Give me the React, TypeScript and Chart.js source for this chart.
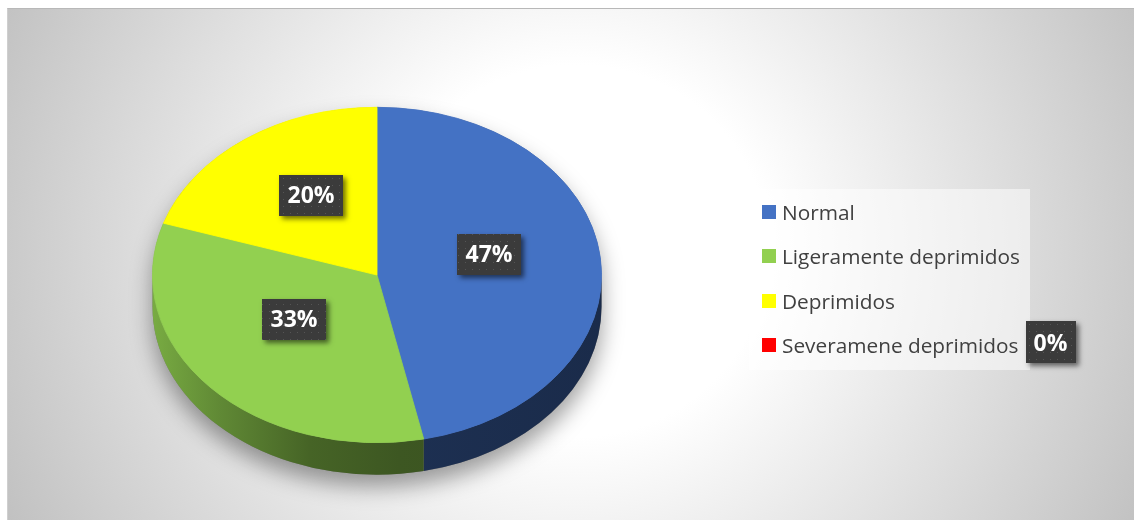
import React, { useEffect, useRef } from 'react';
import { Chart, registerables } from 'chart.js';

Chart.register(...registerables);

const categories = ['Normal', 'Ligeramente deprimidos', 'Deprimidos', 'Severamene deprimidos'];
const counts = [14, 10, 6, 0];
const sliceColors = ['#4472C4', '#92D050', '#FFFF00', '#FF0000'];

const TILT = 0.747;
const DEPTH = 32;
const LABEL_SHIFT = -12;
const LABEL_FONT = 'bold 23px "Open Sans"';

const total = counts.reduce((a, b) => a + b, 0);
const pct = (v: number) => Math.round((v / total) * 100) + '%';

function shade(hex: string, f: number) {
  const n = parseInt(hex.slice(1), 16);
  const r = Math.round(((n >> 16) & 255) * f);
  const g = Math.round(((n >> 8) & 255) * f);
  const b = Math.round((n & 255) * f);
  return `rgb(${r},${g},${b})`;
}

let patternCanvas: HTMLCanvasElement | null = null;
function getPattern(ctx: CanvasRenderingContext2D) {
  if (!patternCanvas) {
    patternCanvas = document.createElement('canvas');
    patternCanvas.width = 7;
    patternCanvas.height = 7;
    const p = patternCanvas.getContext('2d')!;
    p.fillStyle = '#3b3b3b';
    p.fillRect(0, 0, 7, 7);
    p.fillStyle = '#555555';
    p.fillRect(3, 3, 1, 1);
  }
  return ctx.createPattern(patternCanvas, 'repeat');
}

function drawLabel(ctx: CanvasRenderingContext2D, x: number, y: number, text: string) {
  ctx.save();
  ctx.font = LABEL_FONT;
  const tw = ctx.measureText(text).width;
  const w = Math.round(tw + 17);
  const h = 41;
  const left = Math.round(x - w / 2);
  const top = Math.round(y - h / 2);
  ctx.shadowColor = 'rgba(0,0,0,0.55)';
  ctx.shadowBlur = 5;
  ctx.shadowOffsetX = 3;
  ctx.shadowOffsetY = 3;
  ctx.fillStyle = '#3b3b3b';
  ctx.fillRect(left, top, w, h);
  ctx.shadowColor = 'transparent';
  const pat = getPattern(ctx);
  if (pat) {
    ctx.fillStyle = pat;
    ctx.fillRect(left, top, w, h);
  }
  ctx.fillStyle = '#ffffff';
  ctx.textAlign = 'center';
  ctx.textBaseline = 'middle';
  ctx.fillText(text, left + w / 2, top + h / 2 + 1);
  ctx.restore();
}

const pie3d = {
  id: 'pie3d',
  beforeDatasetsDraw(chart: any) {
    const ctx: CanvasRenderingContext2D = chart.ctx;
    const arcs = chart.getDatasetMeta(0).data as any[];
    if (!arcs.length) return;
    const cx = arcs[0].x;
    const cy = arcs[0].y;
    const r = arcs[0].outerRadius;
    const ry = r * TILT;

    // soft shadow under the pie
    ctx.save();
    ctx.shadowColor = 'rgba(0,0,0,0.38)';
    ctx.shadowBlur = 22;
    ctx.shadowOffsetY = 12;
    ctx.fillStyle = '#777';
    ctx.beginPath();
    ctx.ellipse(cx, cy, r, ry, 0, Math.PI, 0, false);
    ctx.ellipse(cx, cy + DEPTH, r, ry, 0, 0, Math.PI, false);
    ctx.closePath();
    ctx.fill();
    ctx.restore();

    // side walls
    arcs.forEach((arc, i) => {
      const s = arc.startAngle;
      const e = arc.endAngle;
      if (e - s <= 0) return;
      const base = sliceColors[i];
      const g = ctx.createLinearGradient(cx - r, 0, cx + r, 0);
      const stops: [number, number][] = [[0, 0.82], [0.15, 0.66], [0.35, 0.48], [0.55, 0.42], [1, 0.38]];
      stops.forEach(([o, f]) => g.addColorStop(o, shade(base, f)));
      for (let n = -1; n <= 1; n++) {
        const lo = Math.max(s, 2 * Math.PI * n);
        const hi = Math.min(e, Math.PI + 2 * Math.PI * n);
        if (hi <= lo) continue;
        ctx.beginPath();
        ctx.ellipse(cx, cy, r, ry, 0, lo, hi, false);
        ctx.ellipse(cx, cy + DEPTH, r, ry, 0, hi, lo, true);
        ctx.closePath();
        ctx.fillStyle = g;
        ctx.fill();
      }
    });

    ctx.save();
    ctx.translate(cx, cy);
    ctx.scale(1, TILT);
    ctx.translate(-cx, -cy);
  },
  afterDatasetsDraw(chart: any) {
    const ctx: CanvasRenderingContext2D = chart.ctx;
    ctx.restore();
    const arcs = chart.getDatasetMeta(0).data as any[];
    if (!arcs.length) return;
    const cy = arcs[0].y;
    arcs.forEach((arc, i) => {
      if (counts[i] <= 0) return;
      const p = arc.tooltipPosition(true);
      drawLabel(ctx, p.x, cy + (p.y - cy) * TILT + LABEL_SHIFT, pct(counts[i]));
    });
  },
};

export default function App() {
  const ref = useRef<HTMLCanvasElement>(null);
  useEffect(() => {
    const chart = new Chart(ref.current!, {
      type: 'pie',
      data: {
        labels: categories,
        datasets: [
          {
            data: counts,
            backgroundColor: sliceColors,
            borderColor: sliceColors,
            borderWidth: counts.map((v) => (v > 0 ? 1 : 0)),
          },
        ],
      },
      options: {
        responsive: false,
        animation: false,
        events: [],
        layout: { padding: { left: 152, right: 532, top: 50, bottom: 20 } },
        plugins: { legend: { display: false }, tooltip: { enabled: false } },
      },
      plugins: [pie3d as any],
    });
    return () => chart.destroy();
  }, []);

  const rowH = 44.3;
  return (
    <div style={{ position: 'absolute', left: 0, top: 0, width: 1134, height: 520, background: '#ffffff', overflow: 'hidden' }}>
      <div
        style={{
          position: 'absolute',
          left: 7,
          top: 8,
          width: 1127,
          height: 512,
          boxSizing: 'border-box',
          borderTop: '1px solid #b8b8b8',
          borderLeft: '1px solid #cfcfcf',
          background: 'radial-gradient(ellipse 640px 620px at 568px 242px, #ffffff 0%, #ffffff 30%, #c0c0c0 100%)',
        }}
      />
      <canvas ref={ref} width={1134} height={520} style={{ position: 'absolute', left: 0, top: 0 }} />
      <div
        style={{
          position: 'absolute',
          left: 749,
          top: 189,
          width: 281,
          height: 181,
          background: 'rgba(255,255,255,0.5)',
        }}
      />
      {categories.map((c, i) => (
        <div
          key={c}
          style={{
            position: 'absolute',
            left: 762,
            top: 190 + i * rowH,
            height: 44,
            display: 'flex',
            alignItems: 'center',
            fontFamily: '"Open Sans", sans-serif',
            fontSize: 20.8,
            color: '#404040',
            whiteSpace: 'nowrap',
          }}
        >
          <span style={{ display: 'inline-block', width: 14, height: 14, background: sliceColors[i], marginRight: 6 }} />
          <span>{c}</span>
          {counts[i] <= 0 && (
            <span
              style={{
                display: 'inline-block',
                marginLeft: 7,
                marginTop: -6,
                width: 50,
                height: 42,
                lineHeight: '42px',
                textAlign: 'center',
                color: '#fff',
                fontWeight: 'bold',
                fontSize: 23,
                background: '#3b3b3b radial-gradient(#555 0.8px, transparent 1px) 0 0 / 7px 7px',
                boxShadow: '3px 3px 5px rgba(0,0,0,0.55)',
              }}
            >
              {pct(counts[i])}
            </span>
          )}
        </div>
      ))}
    </div>
  );
}
